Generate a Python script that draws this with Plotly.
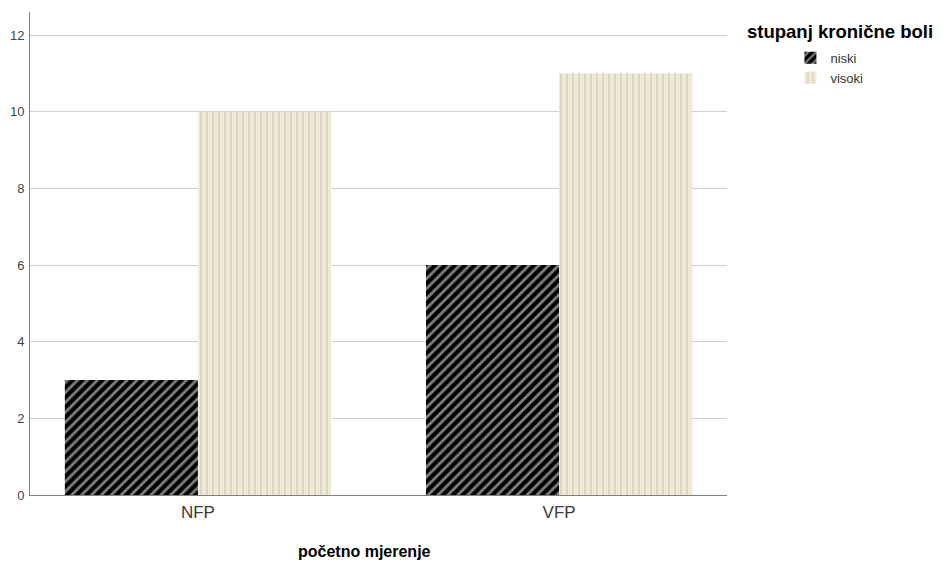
import plotly.graph_objects as go

categories = ["NFP", "VFP"]
series_names = ["niski", "visoki"]
niski_values = [3, 6]
visoki_values = [10, 11]
y_ticks = [0, 2, 4, 6, 8, 10, 12]

FONT = "Liberation Sans, Arial, sans-serif"

fig = go.Figure()
fig.add_trace(go.Bar(
    x=categories, y=niski_values, name=series_names[0],
    marker=dict(color="#000000", line=dict(width=0),
                pattern=dict(shape="/", bgcolor="#000000", fgcolor="#ffffff",
                             size=7, solidity=0.4, fillmode="overlay")),
))
fig.add_trace(go.Bar(
    x=categories, y=visoki_values, name=series_names[1],
    marker=dict(color="#efe9d6", line=dict(width=0),
                pattern=dict(shape="|", bgcolor="#efe9d6", fgcolor="#7d7b72",
                             size=6, solidity=0.12, fillmode="overlay")),
))

fig.update_layout(
    width=943, height=565,
    margin=dict(l=22, r=224, t=4, b=78, autoexpand=False),
    paper_bgcolor="white", plot_bgcolor="white",
    barmode="group", bargap=0.263, bargroupgap=0,
    font=dict(family=FONT, color="#333333"),
    xaxis=dict(
        type="category", range=[-0.465, 1.465],
        showgrid=False, showline=True, linecolor="#7f7f7f", linewidth=1,
        ticks="", tickfont=dict(size=17, color="#3a3a3a"), ticklabelstandoff=2,
        automargin=False,
    ),
    yaxis=dict(
        range=[0, 12.6], tickvals=y_ticks,
        showgrid=True, gridcolor="#cfcfcf", gridwidth=1,
        showline=True, linecolor="#7f7f7f", linewidth=1,
        ticks="", tickfont=dict(size=13, color="#444444"), zeroline=False,
        ticklabelstandoff=2, automargin=False,
    ),
    legend=dict(
        x=1.091, y=0.936, xanchor="left", yanchor="top",
        font=dict(size=13, color="#333333"), tracegroupgap=0,
        itemwidth=30, bgcolor="rgba(0,0,0,0)",
    ),
    annotations=[
        dict(
            text="<b>stupanj kronične boli</b>", xref="paper", yref="paper",
            x=1.0258, y=0.9586, xanchor="left", yanchor="middle", showarrow=False,
            font=dict(size=18.5, color="#000000"),
        ),
        dict(
            text="<b>početno mjerenje</b>", xref="paper", yref="paper",
            x=0.4806, y=-0.118, xanchor="center", yanchor="middle", showarrow=False,
            font=dict(size=16, color="#000000"),
        ),
    ],
)

fig.write_html("out.html")
